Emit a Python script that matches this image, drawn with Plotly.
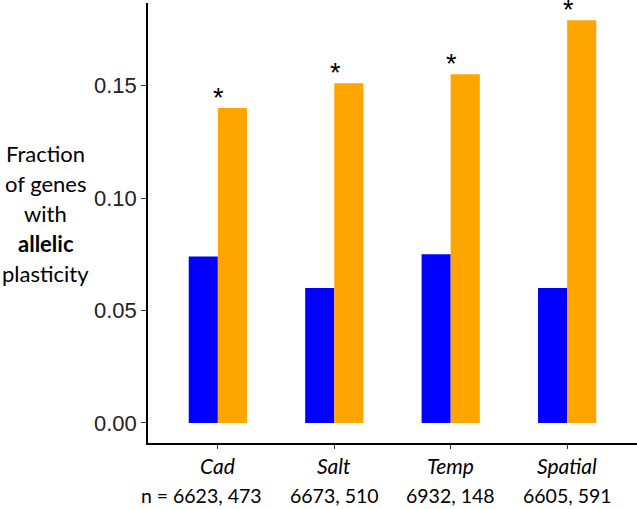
import plotly.graph_objects as go

categories = ["Cad", "Salt", "Temp", "Spatial"]
n_prefix = ["n = ", "", "", ""]
n_labels = ["6623, 473", "6673, 510", "6932, 148", "6605, 591"]
blue_values = [0.074, 0.060, 0.075, 0.060]
orange_values = [0.140, 0.151, 0.155, 0.179]
significance = ["*", "*", "*", "*"]
y_ticks = [0.00, 0.05, 0.10, 0.15]
y_title_lines = ["Fraction", "of genes", "with", "<b>allelic</b>", "plasticity"]

x_idx = list(range(len(categories)))
label_font = "Lato, 'Open Sans', sans-serif"

fig = go.Figure()
fig.add_trace(go.Bar(x=x_idx, y=blue_values, marker=dict(color="#0000FF", line=dict(width=0)),
                     showlegend=False, hoverinfo="skip"))
fig.add_trace(go.Bar(x=x_idx, y=orange_values, marker=dict(color="#FFA500", line=dict(width=0)),
                     showlegend=False, hoverinfo="skip"))

for i, (v, s) in enumerate(zip(orange_values, significance)):
    fig.add_annotation(x=i, y=v, text=s, showarrow=False, yanchor="bottom", yshift=-7, xshift=1,
                       font=dict(size=27, color="#000", family="Liberation Sans, Arial"))

for i, (c, p, n) in enumerate(zip(categories, n_prefix, n_labels)):
    fig.add_annotation(x=i, xref="x", y=0, yref="paper", text=f"<i>{c}</i>", showarrow=False,
                       yanchor="middle", yshift=-22,
                       font=dict(size=21, color="black", family=label_font))
    fig.add_annotation(x=i, xref="x", y=0, yref="paper", text=n, showarrow=False,
                       yanchor="middle", yshift=-52,
                       font=dict(size=19.5, color="black", family=label_font))
    if p:
        fig.add_annotation(x=i, xref="x", y=0, yref="paper", text=p, showarrow=False,
                           xanchor="right", yanchor="middle", yshift=-52, xshift=-43,
                           font=dict(size=19.5, color="black", family=label_font))

for k, line in enumerate(y_title_lines):
    fig.add_annotation(xref="paper", yref="paper", x=-0.2086, y=0.5227, xanchor="center",
                       yanchor="middle", yshift=60 - 30 * k, text=line, showarrow=False,
                       font=dict(size=22, color="black", family=label_font))

fig.update_layout(
    width=637, height=509,
    margin=dict(l=148, r=0, t=3, b=66),
    paper_bgcolor="white", plot_bgcolor="white",
    barmode="group", bargap=0.5, bargroupgap=0,
    xaxis=dict(range=[-0.6, 3.6], tickmode="array", tickvals=x_idx, showticklabels=False,
               automargin=False,
               showline=True, linecolor="black", linewidth=1.5, showgrid=False, zeroline=False,
               ticks="outside", ticklen=4, tickcolor="#333", tickwidth=1),
    yaxis=dict(range=[-0.0089, 0.1867], tickmode="array", tickvals=y_ticks,
               ticktext=[f"{t:.2f}" for t in y_ticks], automargin=False,
               showline=True, linecolor="black", linewidth=1.5, showgrid=False, zeroline=False,
               ticks="outside", ticklen=5, tickcolor="#333", tickwidth=1,
               tickfont=dict(size=22, color="#222", family="Liberation Sans, Arial")),
)

fig.write_html("out.html", config={"displayModeBar": False},
               post_script="document.body.style.margin='0';document.body.style.overflow='hidden';")
